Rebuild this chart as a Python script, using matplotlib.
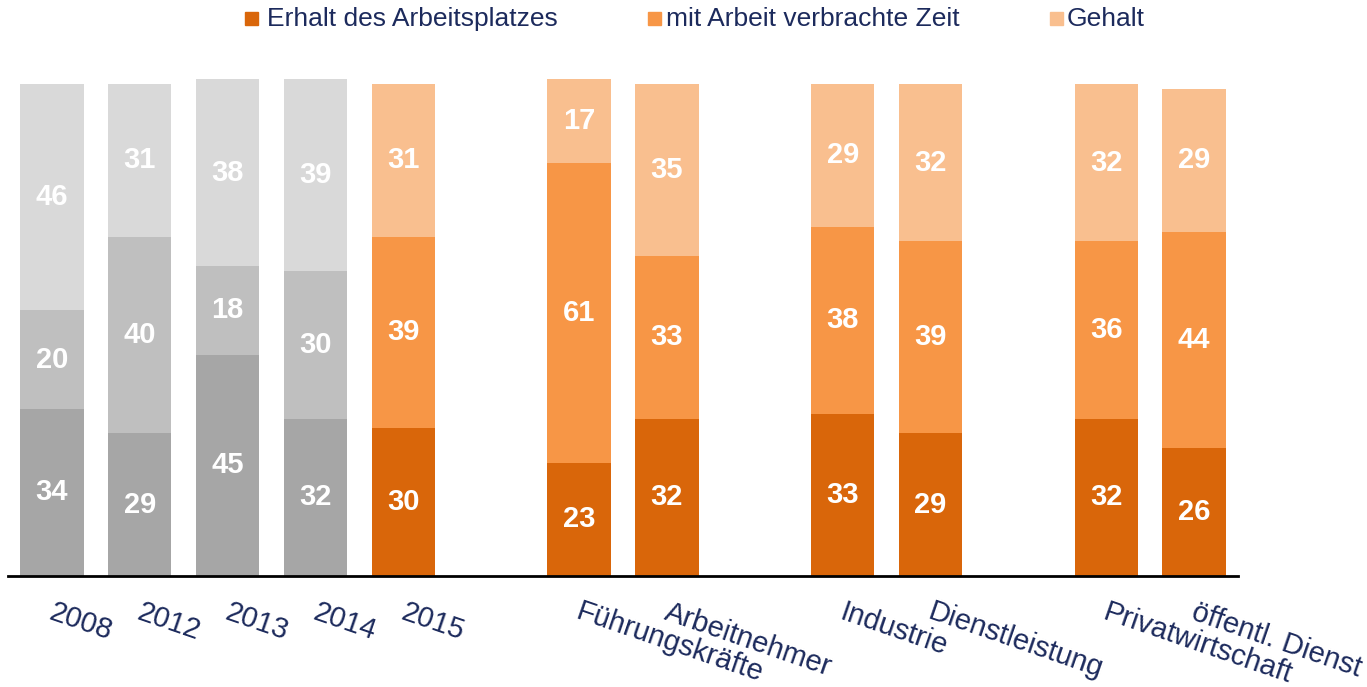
import matplotlib
matplotlib.use("Agg")
import matplotlib.pyplot as plt
from matplotlib.patches import Rectangle
import numpy as np

plt.rcParams['font.family'] = ['Liberation Sans', 'DejaVu Sans']

categories = ["2008", "2012", "2013", "2014", "2015",
              "Führungskräfte", "Arbeitnehmer",
              "Industrie", "Dienstleistung",
              "Privatwirtschaft", "öffentl. Dienst"]
positions = [0, 1, 2, 3, 4, 6, 7, 9, 10, 12, 13]
series_names = ["Erhalt des Arbeitsplatzes", "mit Arbeit verbrachte Zeit", "Gehalt"]
erhalt = [34, 29, 45, 32, 30, 23, 32, 33, 29, 32, 26]
zeit = [20, 40, 18, 30, 39, 61, 33, 38, 39, 36, 44]
gehalt = [46, 31, 38, 39, 31, 17, 35, 29, 32, 32, 29]

orange = ["#d9660a", "#f79646", "#f9bf8f"]
gray = ["#a6a6a6", "#bfbfbf", "#d9d9d9"]
n_gray = 4
navy = "#1c2a5c"

W, H = 1367, 687
fig = plt.figure(figsize=(W / 100, H / 100), dpi=100)
ax = fig.add_axes([8 / W, (H - 576) / H, (1238 - 8) / W, (576 - 84) / H])

series = [erhalt, zeit, gehalt]
bottom = np.zeros(len(categories))
for si, vals in enumerate(series):
    vals = np.array(vals, dtype=float)
    cols = [gray[si] if i < n_gray else orange[si] for i in range(len(categories))]
    ax.bar(positions, vals, bottom=bottom, width=0.72, color=cols, clip_on=False, zorder=2)
    for x, b, v in zip(positions, bottom, vals):
        ax.text(x, b + v / 2, f"{int(v)}", ha="center", va="center", color="white",
                fontsize=21, fontweight="bold", zorder=3)
    bottom += vals

ax.set_xlim(-0.5, 13.5)
ax.set_ylim(0, 100)
for s in ["top", "right", "left"]:
    ax.spines[s].set_visible(False)
ax.spines["bottom"].set_linewidth(2)
ax.spines["bottom"].set_color("black")
ax.spines["bottom"].set_zorder(4)
ax.set_yticks([])
ax.set_xticks(positions)
ax.set_xticklabels([])
ax.tick_params(axis="x", length=0)

for x, lab in zip(positions, categories):
    ax.annotate(lab, xy=(x, 0), xycoords="data", xytext=(3, -22), textcoords="offset pixels",
                ha="left", va="top", rotation=-19, rotation_mode="anchor",
                fontsize=21, color=navy, annotation_clip=False)

# legend
leg_items = [(245, 267), (648, 666), (1050, 1067)]
for (sx, tx), name, col in zip(leg_items, series_names, orange):
    fig.add_artist(Rectangle((sx / W, 1 - 25 / H), 13 / W, 13 / H, color=col,
                             transform=fig.transFigure))
    fig.text(tx / W, 1 - 19 / H, name, ha="left", va="center", fontsize=19, color=navy)

fig.savefig("out.png", dpi=100)
